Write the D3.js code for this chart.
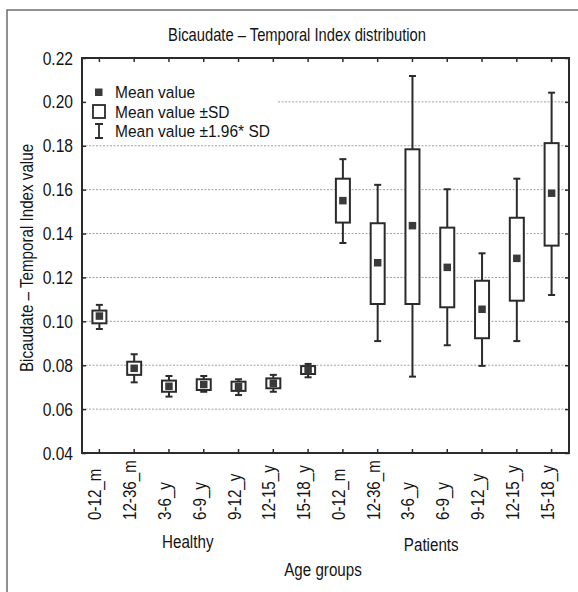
<!DOCTYPE html>
<html>
<head>
<meta charset="utf-8">
<script src="https://cdn.jsdelivr.net/npm/d3@7"></script>
<style>
  html, body { margin: 0; padding: 0; background: #fff; }
  svg { display: block; }
  text { font-family: "Liberation Sans", Arial, sans-serif; fill: #141414; }
</style>
</head>
<body>
<svg id="chart" width="578" height="592"></svg>
<script>
// ---- data ----
const categories = ["0-12_m","12-36_m","3-6_y","6-9_y","9-12_y","12-15_y","15-18_y",
                    "0-12_m","12-36_m","3-6_y","6-9_y","9-12_y","12-15_y","15-18_y"];
const groups = ["Healthy","Healthy","Healthy","Healthy","Healthy","Healthy","Healthy",
                "Patients","Patients","Patients","Patients","Patients","Patients","Patients"];
const groupNames = ["Healthy", "Patients"];
const meanValues = [0.1024,0.0786,0.0704,0.0712,0.0702,0.0718,0.0778,
                    0.1550,0.1267,0.1436,0.1246,0.1055,0.1287,0.1584];
const sdLow  = [0.0991,0.0756,0.0679,0.0687,0.0683,0.0695,0.0760,
                0.1450,0.1079,0.1079,0.1064,0.0923,0.1094,0.1345];
const sdHigh = [0.1049,0.0816,0.0730,0.0736,0.0725,0.0740,0.0796,
                0.1650,0.1447,0.1784,0.1427,0.1185,0.1472,0.1812];
const ciLow  = [0.0965,0.0722,0.0657,0.0679,0.0664,0.0679,0.0745,
                0.1357,0.0910,0.0748,0.0891,0.0797,0.0910,0.1120];
const ciHigh = [0.1075,0.0850,0.0751,0.0751,0.0736,0.0756,0.0806,
                0.1739,0.1622,0.2118,0.1602,0.1310,0.1650,0.2042];
const yTicks = [0.04,0.06,0.08,0.10,0.12,0.14,0.16,0.18,0.20,0.22];
const title = "Bicaudate \u2013 Temporal Index distribution";
const yTitle = "Bicaudate \u2013 Temporal Index value";
const xTitle = "Age groups";
const legendLabels = ["Mean value", "Mean value \u00b1SD", "Mean value \u00b11.96* SD"];

// ---- layout ----
const svg = d3.select("#chart");
const L = 82, R = 569, T = 58, B = 453;
const dark = "#2b2b2b";

function addText(parent, x, y, str, size, anchor, rot, sx) {
  return parent.append("text")
    .attr("transform", `translate(${x},${y})${rot ? ` rotate(${rot})` : ""} scale(${sx || 0.82},1)`)
    .attr("text-anchor", anchor || "start")
    .attr("font-size", size)
    .text(str);
}

const x = d3.scaleBand().domain(d3.range(categories.length)).range([L, R]);
const y = d3.scaleLinear().domain([0.04, 0.22]).range([B, T]);
const cx = i => x(i) + x.bandwidth() / 2;

// outer frame
svg.append("path").attr("d", "M7,592V10H578").attr("fill", "none")
  .attr("stroke", "#6e6e6e").attr("stroke-width", 1.5);

// title
addText(svg, 297, 41, title, 18, "middle");

// gridlines
svg.append("g").selectAll("line").data(yTicks.filter(v => v > 0.04 && v < 0.22)).join("line")
  .attr("x1", L).attr("x2", R).attr("y1", d => y(d)).attr("y2", d => y(d))
  .attr("stroke", "#a0a0a0").attr("stroke-width", 1).attr("stroke-dasharray", "2,1.5");

// legend background (hides gridlines)
svg.append("rect").attr("x", L + 1).attr("y", 80).attr("width", 194).attr("height", 62).attr("fill", "#fff");

// axes (tick marks pointing inward on all four sides)
const yAxisL = d3.axisLeft(y).tickValues(yTicks).tickFormat("").tickSizeInner(-4).tickSizeOuter(0);
svg.append("g").attr("transform", `translate(${L},0)`).call(yAxisL);
const yAxisR = d3.axisRight(y).tickValues(yTicks).tickFormat("").tickSizeInner(-4).tickSizeOuter(0);
svg.append("g").attr("transform", `translate(${R},0)`).call(yAxisR);
const xAxisB = d3.axisBottom(x).tickFormat("").tickSizeInner(-4).tickSizeOuter(0);
svg.append("g").attr("transform", `translate(0,${B})`).call(xAxisB);
const xAxisT = d3.axisTop(x).tickFormat("").tickSizeInner(-4).tickSizeOuter(0);
svg.append("g").attr("transform", `translate(0,${T})`).call(xAxisT);
svg.selectAll(".domain").remove();
svg.selectAll(".tick line").attr("stroke", dark).attr("stroke-width", 1.5);

// y tick labels
const fmt = d3.format(".2f");
const gyl = svg.append("g");
yTicks.forEach(v => addText(gyl, L - 9, y(v) + 6.5, fmt(v), 19, "end"));

// plot frame
svg.append("rect").attr("x", L).attr("y", T).attr("width", R - L).attr("height", B - T)
  .attr("fill", "none").attr("stroke", dark).attr("stroke-width", 2);

// x tick labels
const gxl = svg.append("g");
categories.forEach((c, i) => addText(gxl, cx(i) + 2, 520, c, 18.5, "start", -90));

// group labels
groupNames.forEach(g => {
  const idx = groups.map((v, i) => v === g ? i : -1).filter(i => i >= 0);
  const mid = (x(idx[0]) + x(idx[idx.length - 1]) + x.bandwidth()) / 2 - 16;
  addText(svg, mid, g === "Healthy" ? 548 : 551, g, 18.5, "middle");
});
addText(svg, 323, 576, xTitle, 18.5, "middle");

// y title
addText(svg, 33, 258, yTitle, 18.5, "middle", -90);

// boxes
const boxW = 14, capW = 7, sq = 7.5;
const gB = svg.append("g");
categories.forEach((c, i) => {
  const g = gB.append("g");
  g.append("line").attr("x1", cx(i)).attr("x2", cx(i)).attr("y1", y(ciLow[i])).attr("y2", y(ciHigh[i]))
    .attr("stroke", dark).attr("stroke-width", 2);
  [ciLow[i], ciHigh[i]].forEach(v => {
    g.append("line").attr("x1", cx(i) - capW / 2).attr("x2", cx(i) + capW / 2)
      .attr("y1", y(v)).attr("y2", y(v)).attr("stroke", dark).attr("stroke-width", 2);
  });
  g.append("rect").attr("x", cx(i) - boxW / 2).attr("y", y(sdHigh[i]))
    .attr("width", boxW).attr("height", y(sdLow[i]) - y(sdHigh[i]))
    .attr("fill", "#fff").attr("stroke", dark).attr("stroke-width", 2);
  g.append("rect").attr("x", cx(i) - sq / 2).attr("y", y(meanValues[i]) - sq / 2)
    .attr("width", sq).attr("height", sq).attr("fill", "#3a3a3a");
});

// legend
const lg = svg.append("g");
lg.append("rect").attr("x", 95).attr("y", 88.5).attr("width", 7.5).attr("height", 7.5).attr("fill", "#3a3a3a");
lg.append("rect").attr("x", 93).attr("y", 105).attr("width", 12).attr("height", 13)
  .attr("fill", "#fff").attr("stroke", dark).attr("stroke-width", 1.8);
lg.append("path").attr("d", "M95,124H103M99,124V138M95,138H103").attr("fill", "none")
  .attr("stroke", dark).attr("stroke-width", 1.8);
legendLabels.forEach((t, i) => addText(lg, 115, [98, 117.5, 137][i], t, 16.5, "start", 0, 0.94));
</script>
</body>
</html>
